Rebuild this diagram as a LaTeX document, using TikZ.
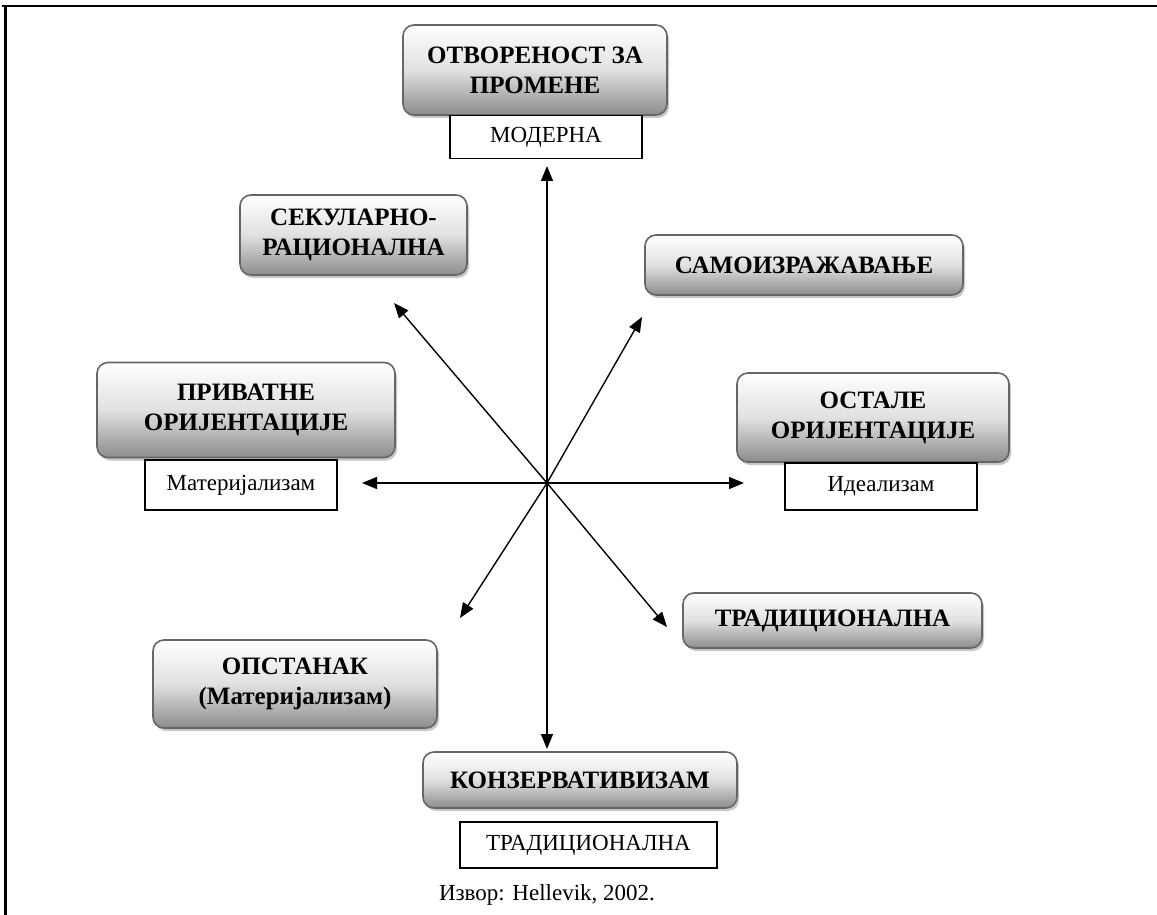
\documentclass[tikz,border=0pt]{standalone}
\usepackage{fontspec}
\setmainfont{Liberation Serif}
\usetikzlibrary{arrows.meta,shadows,shapes.misc}
\tikzset{
  bigbox/.style={draw=black!60, line width=1.6pt, rounded corners=11pt,
    top color=white, bottom color=black!45, middle color=black!12,
    drop shadow={shadow xshift=2pt, shadow yshift=-3pt, fill=black!22, opacity=1},
    font=\fontsize{25}{30}\selectfont\bfseries, align=center, inner sep=0pt},
  smallbox/.style={draw=black, line width=1.2pt, fill=white, inner sep=0pt,
    font=\fontsize{23}{27}\selectfont},
  axis/.style={line width=1.4pt, -{Triangle[length=15pt,width=12pt]}},
  frameline/.style={line width=2.6pt}
}
\begin{document}
\begin{tikzpicture}[x=1pt,y=-1pt]
\useasboundingbox (0,0) rectangle (1157,915);
\draw[frameline] (2,6) -- (1157,6);
\draw[frameline] (5.5,6) -- (5.5,915);

% big boxes
\node[bigbox, minimum width=264pt, minimum height=90pt] (open) at (535,70) {ОТВОРЕНОСТ ЗА\\ПРОМЕНЕ};
\node[smallbox, minimum width=192pt, minimum height=43pt] (moder) at (546,137) {МОДЕРНА};
\node[bigbox, minimum width=227pt, minimum height=80pt] (secul) at (353.5,235) {СЕКУЛАРНО-\\РАЦИОНАЛНА};
\node[bigbox, minimum width=318pt, minimum height=60pt] (self) at (804,265) {САМОИЗРАЖАВАЊЕ};
\node[bigbox, minimum width=298pt, minimum height=95pt] (priv) at (246,410) {ПРИВАТНЕ\\ОРИЈЕНТАЦИЈЕ};
\node[smallbox, minimum width=192pt, minimum height=50pt] (mat) at (241,485) {Материјализам};
\node[bigbox, minimum width=272pt, minimum height=89pt] (other) at (873,417.5) {ОСТАЛЕ\\ОРИЈЕНТАЦИЈЕ};
\node[smallbox, minimum width=192pt, minimum height=47pt] (ideal) at (881,486.5) {Идеализам};
\node[bigbox, minimum width=299pt, minimum height=55pt] (trad) at (832.5,620.5) {ТРАДИЦИОНАЛНА};
\node[bigbox, minimum width=284pt, minimum height=88pt] (surv) at (295,684) {ОПСТАНАК\\(Материјализам)};
\node[bigbox, minimum width=314pt, minimum height=56pt] (cons) at (580,780) {КОНЗЕРВАТИВИЗАМ};
\node[smallbox, minimum width=257pt, minimum height=46pt] (tradsm) at (588.5,845) {ТРАДИЦИОНАЛНА};
\node[font=\fontsize{23}{27}\selectfont] (src) at (547,895) {Извор: Hellevik, 2002.};

% axes
\coordinate (c) at (547,483);
\coordinate (tu) at (547,166);
\coordinate (td) at (547,749);
\coordinate (tl) at (362,483);
\coordinate (tr) at (744,483);
\coordinate (tnw) at (394,303);
\coordinate (tse) at (667,627);
\coordinate (tne) at (642,317);
\coordinate (tsw) at (460,618);
\draw[axis] (c) -- (tu);
\draw[axis] (c) -- (td);
\draw[axis] (c) -- (tl);
\draw[axis] (c) -- (tr);
\draw[axis] (c) -- (tnw);
\draw[axis] (c) -- (tse);
\draw[axis] (c) -- (tne);
\draw[axis] (c) -- (tsw);
\end{tikzpicture}
\end{document}
